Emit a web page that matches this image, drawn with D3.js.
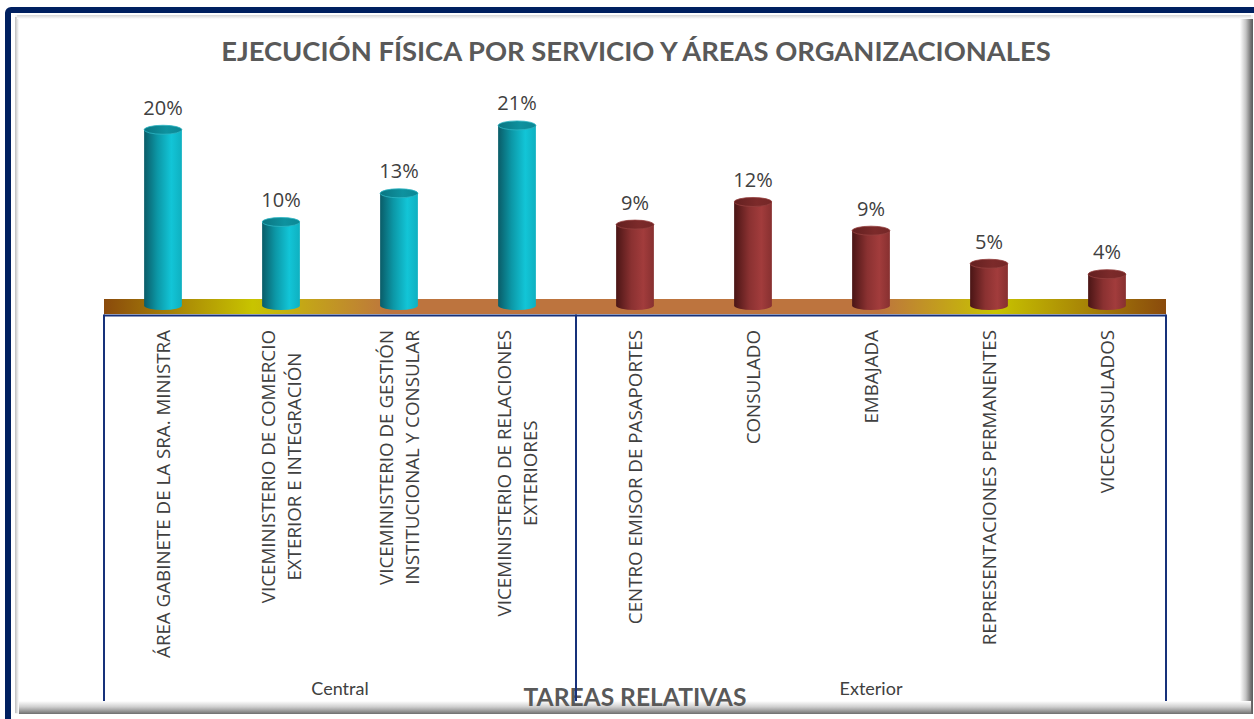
<!DOCTYPE html>
<html>
<head>
<meta charset="utf-8">
<script src="https://cdn.jsdelivr.net/npm/d3@7"></script>
<style>
body { margin: 0; background: #fff; }
svg { display: block; }
</style>
</head>
<body>
<svg id="chart" width="1254" height="719"></svg>
<script>
// data
var categoryLines = [
    ["ÁREA GABINETE DE LA SRA. MINISTRA"],
    ["VICEMINISTERIO DE COMERCIO", "EXTERIOR E INTEGRACIÓN"],
    ["VICEMINISTERIO DE GESTIÓN", "INSTITUCIONAL Y CONSULAR"],
    ["VICEMINISTERIO DE RELACIONES", "EXTERIORES"],
    ["CENTRO EMISOR DE PASAPORTES"],
    ["CONSULADO"],
    ["EMBAJADA"],
    ["REPRESENTACIONES PERMANENTES"],
    ["VICECONSULADOS"]
];
var categories = categoryLines.map(function (l) { return l.join(" "); });
var categoryGroup = ["Central", "Central", "Central", "Central", "Exterior", "Exterior", "Exterior", "Exterior", "Exterior"];
var groups = ["Central", "Exterior"];
var values = [20.2, 9.6, 12.9, 20.7, 9.3, 11.9, 8.6, 4.8, 3.6];

var title = "EJECUCIÓN FÍSICA POR SERVICIO Y ÁREAS ORGANIZACIONALES";
var axisTitle = "TAREAS RELATIVAS";

var svg = d3.select("#chart");
var defs = svg.append("defs");

function linGrad(id, stops, vertical) {
    var g = defs.append("linearGradient").attr("id", id)
        .attr("x1", 0).attr("y1", 0)
        .attr("x2", vertical ? 0 : 1).attr("y2", vertical ? 1 : 0);
    stops.forEach(function (s) {
        g.append("stop").attr("offset", s[0]).attr("stop-color", s[1]);
    });
}

linGrad("cyanBody", [["0%", "#0a5c68"], ["35%", "#0c97a6"], ["72%", "#12c5d7"], ["100%", "#0fb0c0"]]);
linGrad("cyanTop", [["0%", "#0a7581"], ["60%", "#0e929f"], ["100%", "#0c8794"]]);
linGrad("redBody", [["0%", "#4a1515"], ["40%", "#8a3131"], ["72%", "#a23c3c"], ["100%", "#873030"]]);
linGrad("redTop", [["0%", "#632020"], ["60%", "#7c2a2a"], ["100%", "#742727"]]);
linGrad("floor", [["0%", "#8a4a0c"], ["14%", "#c8c400"], ["27%", "#bd743e"], ["73%", "#bd743e"], ["84%", "#c8c400"], ["100%", "#8a4a0c"]]);
linGrad("shadowRight", [["0%", "#ffffff"], ["45%", "#c4c4c4"], ["85%", "#707070"], ["100%", "#5a5a5a"]]);
linGrad("shadowBottom", [["0%", "#ffffff"], ["45%", "#cfcfcf"], ["85%", "#8a8a8a"], ["100%", "#6e6e6e"]], true);
linGrad("edgeLeft", [["0%", "#bdbdbd"], ["100%", "#ffffff"]]);
linGrad("edgeTop", [["0%", "#d6d6d6"], ["100%", "#ffffff"]], true);

// frame
svg.append("rect").attr("x", 8).attr("y", 10).attr("width", 1300).attr("height", 800)
    .attr("rx", 3).attr("fill", "#fff").attr("stroke", "#002060").attr("stroke-width", 6);
svg.append("rect").attr("x", 15).attr("y", 15).attr("width", 1238).attr("height", 699).attr("fill", "#f4f4f4");
svg.append("rect").attr("x", 15).attr("y", 17).attr("width", 4).attr("height", 696).attr("fill", "url(#edgeLeft)");
svg.append("rect").attr("x", 17).attr("y", 15).attr("width", 1234).attr("height", 4).attr("fill", "url(#edgeTop)");
svg.append("rect").attr("x", 1240).attr("y", 19).attr("width", 13).attr("height", 695).attr("fill", "url(#shadowRight)");
svg.append("rect").attr("x", 19).attr("y", 701).attr("width", 1232).attr("height", 13).attr("fill", "url(#shadowBottom)");
svg.append("rect").attr("x", 19).attr("y", 19).attr("width", 1221).attr("height", 682).attr("fill", "#fff");

var x = d3.scaleBand().domain(categories).range([104, 1166]).padding(0);
var y = d3.scaleLinear().domain([0, 25]).range([305.5, 88]);

var barW = x.bandwidth() * 0.32;
var ry = 4.5;

svg.append("text")
    .attr("id", "title")
    .attr("x", 636).attr("y", 61)
    .attr("text-anchor", "middle")
    .attr("font-family", "Lato, 'Open Sans', sans-serif")
    .attr("font-weight", "bold")
    .attr("font-size", 26)
    .attr("fill", "#595959")
    .text(title);

function fitWidth(sel, w) {
    var len = sel.node().getComputedTextLength();
    var fs = parseFloat(sel.attr("font-size"));
    sel.attr("font-size", fs * w / len);
    return fs * w / len;
}
fitWidth(d3.select("#title"), 830);

// floor
svg.append("rect")
    .attr("x", x.range()[0]).attr("y", 299)
    .attr("width", x.range()[1] - x.range()[0]).attr("height", 15)
    .attr("fill", "url(#floor)");

// cylinders
var bars = svg.append("g").selectAll("g")
    .data(categories)
    .join("g")
    .attr("transform", function (d) { return "translate(" + (x(d) + x.bandwidth() / 2) + ",0)"; });

bars.append("path")
    .attr("d", function (d, i) {
        var top = y(values[i]), base = y(0), r = barW / 2;
        return "M" + (-r) + "," + top + " L" + (-r) + "," + base +
            " A" + r + "," + ry + " 0 0 0 " + r + "," + base +
            " L" + r + "," + top + " Z";
    })
    .attr("fill", function (d, i) { return categoryGroup[i] === "Central" ? "url(#cyanBody)" : "url(#redBody)"; });

bars.append("ellipse")
    .attr("cx", 0)
    .attr("cy", function (d, i) { return y(values[i]); })
    .attr("rx", barW / 2).attr("ry", ry)
    .attr("fill", function (d, i) { return categoryGroup[i] === "Central" ? "url(#cyanTop)" : "url(#redTop)"; })
    .attr("stroke", function (d, i) { return categoryGroup[i] === "Central" ? "#2fb6c4" : "#94403f"; })
    .attr("stroke-width", 0.8);

bars.append("text")
    .attr("x", 0)
    .attr("y", function (d, i) { return y(values[i]) - ry - 10.5; })
    .attr("text-anchor", "middle")
    .attr("font-family", "'Open Sans', sans-serif")
    .attr("font-size", 20)
    .attr("fill", "#404040")
    .text(function (d, i) { return Math.round(values[i]) + "%"; });

// category labels, rotated
var labelTop = 330;
var lineGap = 26.5;
var probe = svg.append("text")
    .attr("font-family", "'Open Sans', sans-serif")
    .attr("font-size", 18)
    .text(categoryLines[0][0]);
var labelSize = fitWidth(probe, 328);
probe.remove();

var labels = svg.append("g").selectAll("g")
    .data(categoryLines)
    .join("g")
    .attr("font-family", "'Open Sans', sans-serif")
    .attr("font-size", labelSize)
    .attr("fill", "#404040");

labels.each(function (lines, i) {
    var g = d3.select(this);
    var cx = x(categories[i]) + x.bandwidth() / 2;
    var texts = lines.map(function (line, j) {
        return g.append("text")
            .attr("text-anchor", "middle")
            .text(line);
    });
    var maxLen = d3.max(texts, function (t) { return t.node().getComputedTextLength(); });
    var midY = labelTop + maxLen / 2;
    texts.forEach(function (t, j) {
        var off = (j - (lines.length - 1) / 2) * lineGap;
        // baseline sits ~0.36em right of the line centre after rotation
        var lx = cx + off + labelSize * 0.36;
        t.attr("transform", "translate(" + lx + "," + midY + ") rotate(-90)");
    });
});

// group labels
groups.forEach(function (gname) {
    var members = categories.filter(function (c, i) { return categoryGroup[i] === gname; });
    var x0 = x(members[0]), x1 = x(members[members.length - 1]) + x.bandwidth();
    svg.append("text")
        .attr("x", (x0 + x1) / 2).attr("y", 695)
        .attr("text-anchor", "middle")
        .attr("font-family", "Lato, sans-serif")
        .attr("font-size", 18)
        .attr("fill", "#404040")
        .text(gname);
});

var axTitle = svg.append("text")
    .attr("x", 635).attr("y", 706)
    .attr("text-anchor", "middle")
    .attr("font-family", "Lato, 'Open Sans', sans-serif")
    .attr("font-weight", "bold")
    .attr("font-size", 22)
    .attr("fill", "#595959")
    .text(axisTitle);
fitWidth(axTitle, 223);

// axis lines
var lineColor = "#17317a";
svg.append("line")
    .attr("x1", x.range()[0]).attr("x2", x.range()[1])
    .attr("y1", 315.5).attr("y2", 315.5)
    .attr("stroke", lineColor).attr("stroke-width", 2);

var bounds = [x.range()[0]];
groups.forEach(function (gname) {
    var members = categories.filter(function (c, i) { return categoryGroup[i] === gname; });
    bounds.push(x(members[members.length - 1]) + x.bandwidth());
});
svg.append("g").selectAll("line")
    .data(bounds)
    .join("line")
    .attr("x1", function (d) { return d; }).attr("x2", function (d) { return d; })
    .attr("y1", 314.5).attr("y2", 701)
    .attr("stroke", lineColor).attr("stroke-width", 2);
</script>
</body>
</html>
